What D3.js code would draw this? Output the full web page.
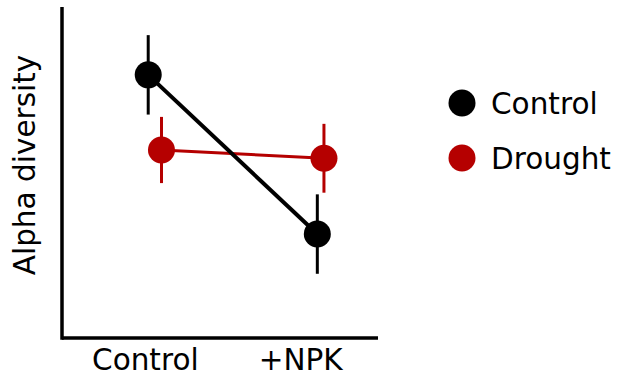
<!DOCTYPE html>
<html><head><meta charset="utf-8">
<script src="https://cdn.jsdelivr.net/npm/d3@7"></script>
<style>body{margin:0;background:#fff}svg{display:block}</style>
</head><body>
<svg id="c" width="617" height="378"></svg>
<script>
const categories = ["Control", "+NPK"];
const seriesNames = ["Control", "Drought"];
const seriesColors = ["#000000", "#b50000"];
const controlMeans = [7.95, 3.14];
const controlErrors = [1.2, 1.2];
const droughtMeans = [5.68, 5.43];
const droughtErrors = [1.0, 1.04];
const dodge = [[-0.04, -0.02], [0.04, 0.02]];
const yLabel = "Alpha diversity";

const series = [
  {name: seriesNames[0], color: seriesColors[0], means: controlMeans, errs: controlErrors, dodge: dodge[0], lw: 4},
  {name: seriesNames[1], color: seriesColors[1], means: droughtMeans, errs: droughtErrors, dodge: dodge[1], lw: 3}
];

const svg = d3.select("#c");
const font = "DejaVu Sans";
const fs = 29.5;
const x = d3.scaleLinear().domain([0.44, 2.346]).range([62, 378]);
const y = d3.scaleLinear().domain([0, 10]).range([338, 7]);

// axes
const gx = svg.append("g").attr("transform", `translate(0,${y(0)})`)
  .call(d3.axisBottom(x).tickValues([1, 2]).tickSize(0).tickPadding(11)
    .tickFormat((d) => categories[d - 1]));
gx.select(".domain").attr("stroke", "#000").attr("stroke-width", 3.5).attr("d", `M${x.range()[0]},0H${x.range()[1]}`);
gx.selectAll("text").attr("font-family", font).attr("font-size", fs).attr("fill", "#000")
  .attr("dx", (d, i) => i === 0 ? -10 : -20.5);

const gy = svg.append("g").attr("transform", `translate(${x(0.44)},0)`)
  .call(d3.axisLeft(y).tickValues([]).tickSize(0));
gy.select(".domain").attr("stroke", "#000").attr("stroke-width", 3.5).attr("d", `M0,${y.range()[1]}V${y.range()[0] + 1.75}`);

svg.append("text").attr("transform", `translate(35,${165}) rotate(-90)`)
  .attr("text-anchor", "middle").attr("font-family", font).attr("font-size", fs).text(yLabel);

const order = [1, 0];
order.forEach((si) => {
  const s = series[si];
  const pts = categories.map((c, i) => ({x: x(i + 1 + s.dodge[i]), m: s.means[i], e: s.errs[i]}));
  const g = svg.append("g");
  g.append("path").datum(pts).attr("fill", "none").attr("stroke", s.color).attr("stroke-width", s.lw)
    .attr("d", d3.line().x((d) => d.x).y((d) => y(d.m)));
  g.selectAll("line.err").data(pts).join("line").attr("class", "err")
    .attr("x1", (d) => d.x).attr("x2", (d) => d.x)
    .attr("y1", (d) => y(d.m + d.e)).attr("y2", (d) => y(d.m - d.e))
    .attr("stroke", s.color).attr("stroke-width", 3);
  g.selectAll("circle").data(pts).join("circle")
    .attr("cx", (d) => d.x).attr("cy", (d) => y(d.m)).attr("r", 13.5).attr("fill", s.color);
});

// legend
const leg = svg.append("g");
series.forEach((s, i) => {
  const cy = 103 + i * 55;
  leg.append("circle").attr("cx", 462).attr("cy", cy).attr("r", 13.5).attr("fill", s.color);
  leg.append("text").attr("x", 491).attr("y", cy + 10.5).attr("font-family", font).attr("font-size", fs)
    .attr("fill", "#000").text(s.name);
});
</script>
</body></html>
